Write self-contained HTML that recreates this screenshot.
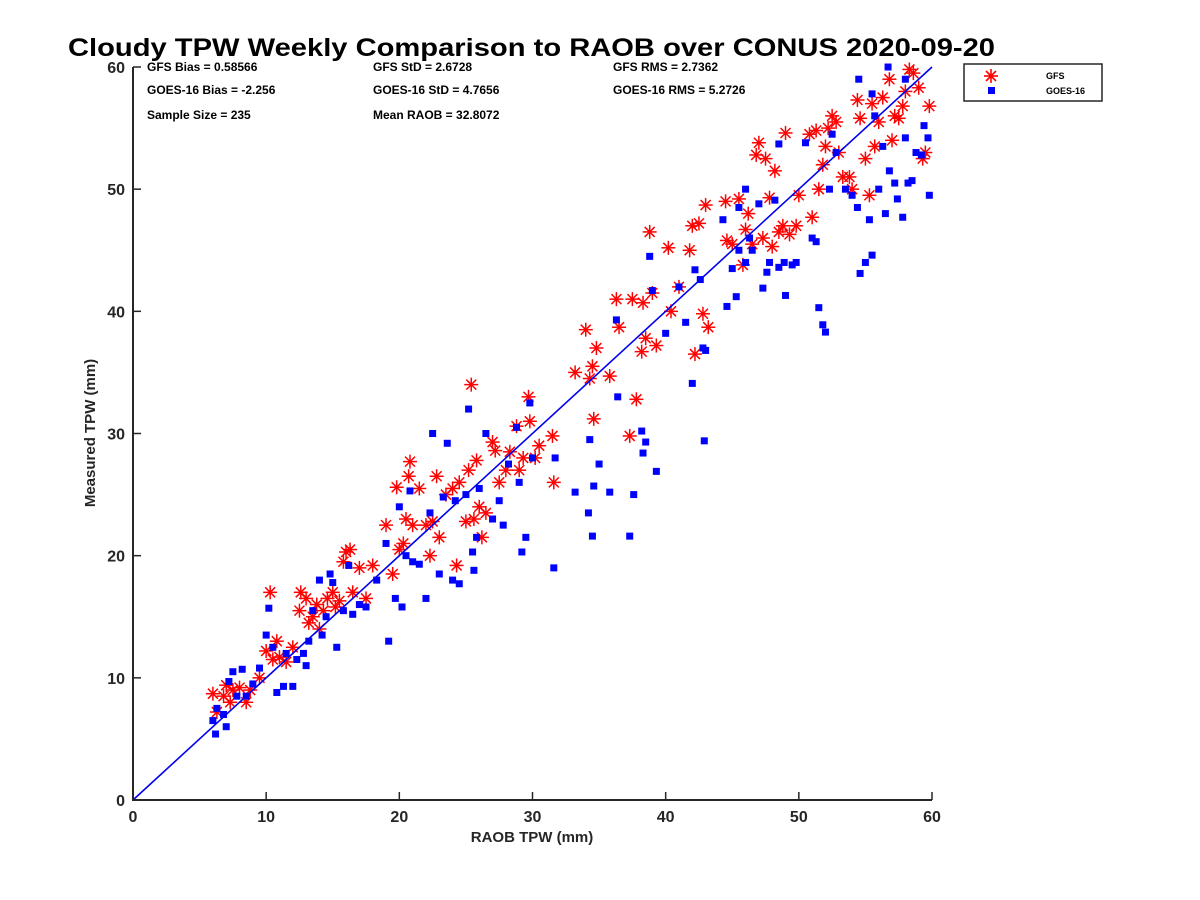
<!DOCTYPE html>
<html><head><meta charset="utf-8"><style>
html,body{margin:0;padding:0;background:#fff;}
svg{display:block;font-family:"Liberation Sans","DejaVu Sans",sans-serif;}
</style></head><body>
<svg id="chart" width="1200" height="900" viewBox="0 0 1200 900">
<rect width="1200" height="900" fill="#fff"/>
<text x="68" y="56" font-size="25" font-weight="bold" fill="#000" textLength="927" lengthAdjust="spacingAndGlyphs">Cloudy TPW Weekly Comparison to RAOB over CONUS 2020-09-20</text>
<g id="plot"></g>
<g id="axes"></g>
<g font-size="12" font-weight="bold" fill="#000">
<text x="147" y="71">GFS Bias = 0.58566</text>
<text x="373" y="71">GFS StD = 2.6728</text>
<text x="613" y="71">GFS RMS = 2.7362</text>
<text x="147" y="94">GOES-16 Bias = -2.256</text>
<text x="373" y="94">GOES-16 StD = 4.7656</text>
<text x="613" y="94">GOES-16 RMS = 5.2726</text>
<text x="147" y="119">Sample Size = 235</text>
<text x="373" y="119">Mean RAOB = 32.8072</text>
</g>
<g>
<rect x="964" y="64" width="138" height="37" fill="#fff" stroke="#262626" stroke-width="1.5"/>
<g stroke="#ff0000" stroke-width="1.6">
<line x1="991" y1="69" x2="991" y2="83"/><line x1="984" y1="76" x2="998" y2="76"/><line x1="986" y1="71" x2="996" y2="81"/><line x1="986" y1="81" x2="996" y2="71"/></g>
<text x="1046" y="79" font-size="9" font-weight="bold">GFS</text>
<rect x="988" y="87" width="7" height="7" fill="#0000ff"/>
<text x="1046" y="94" font-size="9" font-weight="bold">GOES-16</text>
</g>
</svg>
<script>
const xTicks=[0,10,20,30,40,50,60];
const yTicks=[0,10,20,30,40,50,60];
const gfsX=[6,6.3,6.8,7,7.3,7.5,8,8.5,8.8,9.5,10,10.3,10.5,10.8,11,11.5,12,12.5,12.6,13,13.2,13.5,13.8,14,14.3,14.6,15,15.2,15.5,15.8,16,16.3,16.5,17,17.5,18,19,19.5,19.8,20,20.3,20.5,20.7,20.8,21,21.5,22,22.3,22.5,22.8,23,23.5,24,24.3,24.5,25,25.2,25.4,25.6,25.8,26,26.2,26.5,27,27.2,27.5,28,28.3,28.8,29,29.3,29.7,29.8,30.2,30.5,31.5,31.6,33.2,34,34.3,34.5,34.6,34.8,35.8,36.3,36.5,37.3,37.5,37.8,38.2,38.3,38.5,38.8,39,39.3,40.2,40.4,41,41.8,42,42.2,42.5,42.8,43,43.2,44.5,44.6,45,45.5,45.8,46,46.2,46.5,46.8,47,47.3,47.5,47.8,48,48.2,48.5,48.8,49,49.3,49.8,50,50.8,51,51.3,51.5,51.8,52,52.2,52.5,52.8,53,53.3,53.8,54,54.4,54.6,55,55.3,55.5,55.7,56,56.3,56.8,57,57.2,57.5,57.8,58,58.3,58.6,59,59.3,59.5,59.8];
const gfsY=[8.7,7.2,8.5,9.4,8,9,9.2,8,9,10,12.2,17,11.5,13,11.7,11.3,12.5,15.5,17,16.5,14.5,15,16,14,15.5,16.5,17,15.8,16.3,19.5,20.3,20.5,17,19,16.5,19.2,22.5,18.5,25.6,20.5,21,23,26.5,27.7,22.5,25.5,22.5,20,22.8,26.5,21.5,25,25.5,19.2,26,22.8,27,34,23,27.8,24,21.5,23.5,29.3,28.6,26,27,28.5,30.6,27,28,33,31,28,29,29.8,26,35,38.5,34.5,35.5,31.2,37,34.7,41,38.7,29.8,41,32.8,36.7,40.7,37.8,46.5,41.5,37.2,45.2,40,42,45,47,36.5,47.2,39.8,48.7,38.7,49,45.8,45.5,49.2,43.8,46.7,48,45.5,52.8,53.8,46,52.5,49.3,45.3,51.5,46.5,47,54.6,46.3,47,49.5,54.5,47.7,54.8,50,52,53.5,55,56,55.5,53,51,51,50,57.3,55.8,52.5,49.5,57,53.5,55.5,57.5,59,54,56,55.8,56.8,58,59.8,59.5,58.3,52.5,53,56.8];
const goesX=[6,6.2,6.3,6.8,7,7.2,7.5,7.8,8.2,8.5,9,9.5,10,10.2,10.5,10.8,11.3,11.5,12,12.3,12.8,13,13.2,13.5,14,14.2,14.5,14.8,15,15.3,15.8,16.2,16.5,17,17.5,18.3,19,19.2,19.7,20,20.2,20.5,20.8,21,21.5,22,22.3,22.5,23,23.3,23.6,24,24.2,24.5,25,25.2,25.5,25.6,25.8,26,26.5,27,27.5,27.8,28.2,28.8,29,29.2,29.5,29.8,30,31.7,31.6,33.2,34.2,34.3,34.5,34.6,35,35.8,36.3,36.4,37.3,37.6,38.2,38.3,38.5,38.8,39,39.3,40,41,41.5,42,42.2,42.6,42.8,42.9,43,44.3,44.6,45,45.3,45.5,46,46.3,46.5,47,47.3,47.6,47.8,48.2,48.5,48.9,49,49.5,49.8,50.5,51,51.3,51.5,51.8,52,52.5,52.3,52.8,53.5,54,54.4,54.6,55,55.3,55.5,56,56.3,56.5,56.8,57.2,57.4,57.8,58,58.2,58.5,58.8,59.2,59.4,59.7,59.8,54.5,55.5,55.7,58,56.7,48.5,46,45.5];
const goesY=[6.5,5.4,7.5,7,6,9.7,10.5,8.5,10.7,8.5,9.5,10.8,13.5,15.7,12.5,8.8,9.3,12,9.3,11.5,12,11,13,15.5,18,13.5,15,18.5,17.8,12.5,15.5,19.2,15.2,16,15.8,18,21,13,16.5,24,15.8,20,25.3,19.5,19.3,16.5,23.5,30,18.5,24.8,29.2,18,24.5,17.7,25,32,20.3,18.8,21.5,25.5,30,23,24.5,22.5,27.5,30.5,26,20.3,21.5,32.5,28,28,19,25.2,23.5,29.5,21.6,25.7,27.5,25.2,39.3,33,21.6,25,30.2,28.4,29.3,44.5,41.7,26.9,38.2,42,39.1,34.1,43.4,42.6,37,29.4,36.8,47.5,40.4,43.5,41.2,45,44,46,45,48.8,41.9,43.2,44,49.1,43.6,44,41.3,43.8,44,53.8,46,45.7,40.3,38.9,38.3,54.5,50,53,50,49.5,48.5,43.1,44,47.5,44.6,50,53.5,48,51.5,50.5,49.2,47.7,54.2,50.5,50.7,53,52.8,55.2,54.2,49.5,59,57.8,56,59,60,53.7,50,48.5];

const NS='http://www.w3.org/2000/svg';
const X0=133,X1=932,Y0=800,Y1=67;
function sx(v){return X0+(v-0)/60*(X1-X0);}
function sy(v){return Y0-(v-0)/60*(Y0-Y1);}
function mk(tag,attrs,parent){const e=document.createElementNS(NS,tag);for(const k in attrs)e.setAttribute(k,attrs[k]);parent.appendChild(e);return e;}
const plot=document.getElementById('plot');
const axes=document.getElementById('axes');

const gG=mk('g',{stroke:'#ff0000','stroke-width':'1.5'},plot);


for(let i=0;i<gfsX.length;i++){
  const cx=sx(gfsX[i]),cy=sy(gfsY[i]),r=7,d=5;
  const s=mk('g',{},gG);
  
  
  mk('line',{x1:cx,y1:cy-r,x2:cx,y2:cy+r},s);
  mk('line',{x1:cx-r,y1:cy,x2:cx+r,y2:cy},s);
  mk('line',{x1:cx-d,y1:cy-d,x2:cx+d,y2:cy+d},s);
  mk('line',{x1:cx-d,y1:cy+d,x2:cx+d,y2:cy-d},s);
}
const bG=mk('g',{fill:'#0000ff'},plot);


for(let i=0;i<goesX.length;i++){
  const r=mk('rect',{x:sx(goesX[i])-3.5,y:sy(goesY[i])-3.5,width:7,height:7},bG);
  
  
}
const ol=mk('line',{x1:sx(0),y1:sy(0),x2:sx(60),y2:sy(60),stroke:'#0000ee','stroke-width':'1.6'},plot);



const ax=mk('path',{d:`M${X0} ${Y1}V${Y0}H${X1}`,fill:'none',stroke:'#262626','stroke-width':'2'},axes);


xTicks.forEach(t=>{
  const x=sx(t);
  const l=mk('line',{x1:x,y1:Y0,x2:x,y2:Y0-8,stroke:'#262626','stroke-width':'1.5'},axes);
  
  
  const tx=mk('text',{x:x,y:Y0+22,'text-anchor':'middle','font-size':'16','font-weight':'bold',fill:'#262626'},axes);
  tx.textContent=t;
  
  
});
yTicks.forEach(t=>{
  const y=sy(t);
  const l=mk('line',{x1:X0,y1:y,x2:X0+8,y2:y,stroke:'#262626','stroke-width':'1.5'},axes);
  
  
  const tx=mk('text',{x:X0-8,y:y+6,'text-anchor':'end','font-size':'16','font-weight':'bold',fill:'#262626'},axes);
  tx.textContent=t;
  
  
});
const xl=mk('text',{x:532,y:842,'text-anchor':'middle','font-size':'15','font-weight':'bold',fill:'#262626'},axes);
xl.textContent='RAOB TPW (mm)';


const yl=mk('text',{x:0,y:0,'text-anchor':'middle','font-size':'15','font-weight':'bold',fill:'#262626',transform:'translate(95,433) rotate(-90)'},axes);
yl.textContent='Measured TPW (mm)';


</script>
</body></html>
